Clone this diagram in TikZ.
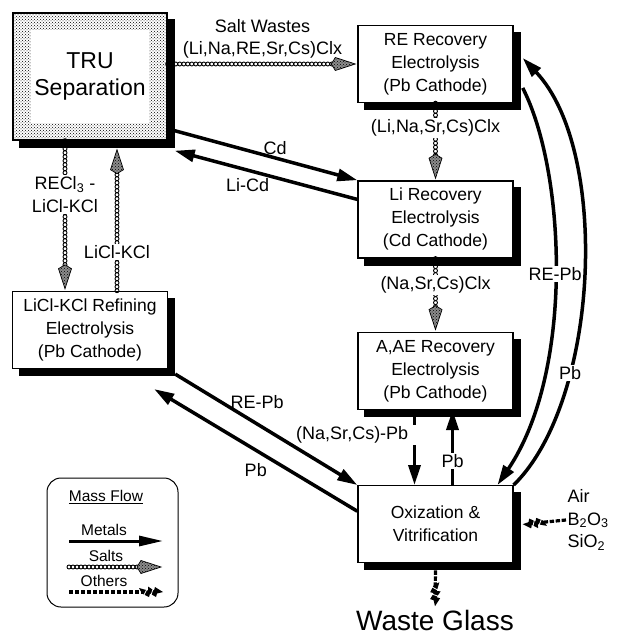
\documentclass[tikz,border=0pt]{standalone}
\usepackage{fontspec}
\setmainfont{Liberation Sans}
\usetikzlibrary{arrows.meta,positioning,backgrounds,patterns,decorations.markings,calc}

\begin{document}
\begin{tikzpicture}[x=1pt, y=-1pt,
        proc/.style={draw, line width=1.4pt, fill=white, minimum width=155pt, minimum height=77pt,
                     inner xsep=0pt, align=center, font=\fontsize{17.5}{23}\selectfont},
        lbl/.style={font=\fontsize{18}{22.5}\selectfont, inner sep=1.5pt, align=center},
        legtxt/.style={font=\fontsize{15.5}{18}\selectfont, inner sep=1pt},
        metal/.style={line width=3.5pt, -{Triangle[length=20pt, width=12pt]}},
        salt/.style={postaction={decorate, decoration={markings,
            mark=between positions 0 and -22pt step 4pt with {\draw[line width=.9pt] (0,0) circle (2pt);},
            mark=at position 1 with {\draw[line width=.7pt, preaction={fill=black!45}, pattern=crosshatch dots]
                (-2pt,0) -- (-22pt,6.5pt) -- (-26pt,0) -- (-22pt,-6.5pt) -- cycle;}}}},
        other/.style={postaction={decorate, decoration={markings,
            mark=between positions 0 and -22pt step 6pt with {\fill (0,-1.6pt) rectangle (4.4pt,1.6pt);},
            mark=at position 1 with {\fill (0,0) -- (-8pt,5pt) -- (-9pt,1.5pt) -- (-15pt,5.5pt) -- (-15pt,1.5pt)
                -- (-24pt,4pt) -- (-21pt,-1.5pt) -- (-14pt,-5pt) -- (-13pt,-1.5pt) -- (-7pt,-5pt) -- (-6pt,-1.5pt) -- cycle;
                \draw[white, line width=.8pt] (-19pt,-3pt) -- (-16pt,3pt) (-12pt,-3pt) -- (-10pt,3pt);}}}}
    ]
        \useasboundingbox (0,0) rectangle (623,636);

        \node[proc] (re) at (435.5,64) {RE Recovery\\Electrolysis\\(Pb Cathode)};
        \node[proc, below=77pt of re] (li) {Li Recovery\\Electrolysis\\(Cd Cathode)};
        \node[proc, below=73pt of li] (aae) {A,AE Recovery\\Electrolysis\\(Pb Cathode)};
        \node[proc, below=75pt of aae] (ox) {Oxization \&\\Vitrification};
        \node[proc, postaction={pattern=crosshatch dots}, minimum width=154pt, minimum height=127pt] (tru) at (90,76.5) {};
        \node[fill=white, minimum width=116pt, minimum height=93pt, align=center,
              font=\fontsize{23}{27}\selectfont] (trutxt) at (tru.center) {TRU\\Separation};
        \node[proc, below=150pt of tru] (refine) {LiCl-KCl Refining\\Electrolysis\\(Pb Cathode)};

        \begin{scope}[on background layer]
            \foreach \b in {re,li,aae,ox,tru,refine}
                \fill ([shift={(7pt,-7pt)}]\b.north west) rectangle ([shift={(7pt,-7pt)}]\b.south east);
        \end{scope}

        \path[salt] (re.west -| tru.east) -- node[lbl, above=4pt] {Salt Wastes\\(Li,Na,RE,Sr,Cs)Clx} (re.west);
        \draw[metal] ($(tru.south east)+(7pt,10pt)$) -- node[lbl, above, pos=.55] {Cd} (li.north west);
        \draw[metal] ([yshift=20pt]li.west) -- node[lbl, below=5pt, pos=.6] {Li-Cd} ($(tru.south east)+(7pt,-10pt)$);

        \path[salt] ([xshift=-25pt]tru.south) -- node[lbl, fill=white, pos=.36] {RECl\textsubscript{3} -\\LiCl-KCl} ([xshift=-25pt]refine.north);
        \path[salt] ([xshift=27pt]refine.north) -- node[lbl, fill=white, pos=.27] {LiCl-KCl} ([xshift=27pt,yshift=-7pt]tru.south);

        \path[salt] (re.south) -- node[lbl, fill=white, pos=.32] {(Li,Na,Sr,Cs)Clx} (li.north);
        \path[salt] (li.south) -- node[lbl, fill=white, pos=.36] {(Na,Sr,Cs)Clx} (aae.north);

        \draw[metal] ([xshift=-21pt]aae.south) -- node[lbl, fill=white, anchor=east, xshift=3pt, pos=.33] {(Na,Sr,Cs)-Pb\kern6pt} ([xshift=-21pt]ox.north);
        \draw[metal] ([xshift=17pt]ox.north) -- node[lbl, fill=white, pos=.32] {Pb} ([xshift=17pt]aae.south);

        \draw[metal] ([shift={(9pt,-24pt)}]re.east) .. controls (565,170) and (575,370) .. node[lbl, fill=white] {RE-Pb} ([xshift=62pt]ox.north);
        \draw[metal] (ox.north east) .. controls (600,400) and (610,150) .. node[lbl, fill=white, pos=.3] {Pb} ([shift={(9pt,6pt)}]re.east);

        \draw[metal] ($(refine.south east)+(7pt,-5pt)$) -- node[lbl, above=12pt, pos=.45] {RE-Pb} (ox.north west);
        \draw[metal] ([yshift=13pt]ox.west) -- node[lbl, below=10pt] {Pb} ($(refine.south east)+(-14pt,-20pt)$);

        \node[lbl, anchor=west, align=left] (addit) at (566,520) {Air\\B\textsubscript{2}O\textsubscript{3}\\SiO\textsubscript{2}};
        \path[other] (addit.west) -- ([xshift=9pt]ox.east);
        \node[font=\fontsize{28}{30}\selectfont] (glass) at (435,620) {Waste Glass};
        \path[other] ([yshift=-7pt]ox.south) -- (glass.north);

        \node[draw, line width=1pt, rounded corners=14pt, minimum width=131pt, minimum height=129pt] (legend) at (112.5,542.5) {};
        \node[legtxt] (mflow) at (106,497) {\underline{Mass Flow}};
        \node[legtxt] (lmetal) at (104,530) {Metals};
        \node[legtxt] (lsalt) at (106,556) {Salts};
        \node[legtxt] (lother) at (104,581) {Others};
        \coordinate (m1) at (69,541);  \coordinate (m2) at (163,541);
        \coordinate (s1) at (69,567);  \coordinate (s2) at (163,567);
        \coordinate (o1) at (69,592);  \coordinate (o2) at (163,592);
        \draw[line width=3pt, -{Triangle[length=24pt, width=10pt]}] (m1) -- (m2);
        \path[salt] (s1) -- (s2);
        \path[other] (o1) -- (o2);
    \end{tikzpicture}
\end{document}
